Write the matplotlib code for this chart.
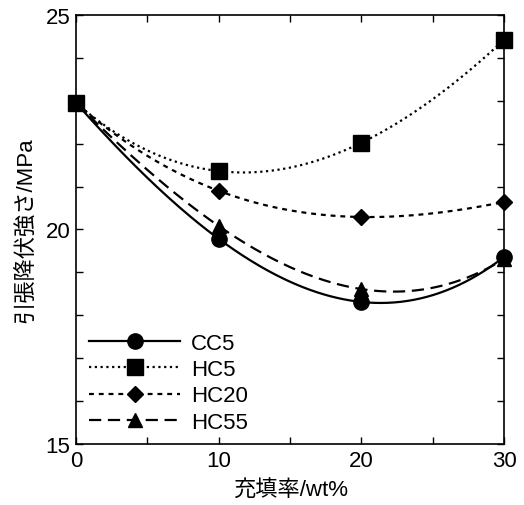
import numpy as np
import matplotlib
matplotlib.use('Agg')
import matplotlib.pyplot as plt
from matplotlib.lines import Line2D
from matplotlib.ticker import MultipleLocator

plt.rcParams['font.family'] = ['Liberation Sans', 'Noto Sans CJK JP']

# data
filler = [0, 10, 20, 30]
cc5 = [22.95, 19.78, 18.31, 19.36]
hc5 = [22.95, 21.36, 22.02, 24.42]
hc20 = [22.95, 20.90, 20.29, 20.64]
hc55 = [22.95, 20.08, 18.61, 19.31]

names = ['CC5', 'HC5', 'HC20', 'HC55']
series = [cc5, hc5, hc20, hc55]
markers = ['o', 's', 'D', '^']
msizes = [11, 11, 8, 10]
styles = ['-', (0, (1, 1.6)), (0, (2.2, 2.2)), (0, (5.5, 3))]

fig = plt.figure(figsize=(5.24, 5.06), dpi=100)
ax = fig.add_axes([0.145, 0.1206, 0.817, 0.848])

xs = np.linspace(0, 30, 200)
handles = []
for name, ys, m, ms, ls in zip(names, series, markers, msizes, styles):
    coef = np.polyfit(filler, ys, 3)
    ax.plot(xs, np.polyval(coef, xs), color='black', lw=1.6, linestyle=ls)
    ax.plot(filler, ys, linestyle='none', marker=m, ms=ms, color='black', clip_on=False, zorder=5)
    handles.append(Line2D([], [], color='black', lw=1.6, linestyle=ls, marker=m, ms=ms))

ax.set_xlim(0, 30)
ax.set_ylim(15, 25)
ax.xaxis.set_major_locator(MultipleLocator(10))
ax.xaxis.set_minor_locator(MultipleLocator(5))
ax.yaxis.set_major_locator(MultipleLocator(5))
ax.yaxis.set_minor_locator(MultipleLocator(1))
ax.tick_params(which='both', direction='in', top=True, right=True, length=5, width=1)
ax.tick_params(labelsize=16, pad=4)
for sp in ax.spines.values():
    sp.set_linewidth(1.2)

ax.set_xlabel('充填率/wt%', fontsize=16, labelpad=6)
ax.set_ylabel('引張降伏強さ/MPa', fontsize=16, labelpad=6)

ax.legend(handles, names, loc='upper left', bbox_to_anchor=(0.01, 0.28), frameon=False,
          fontsize=16, handlelength=4.1, handletextpad=0.5, labelspacing=0.24,
          numpoints=1, borderaxespad=0)

fig.savefig('out.png', dpi=100)
